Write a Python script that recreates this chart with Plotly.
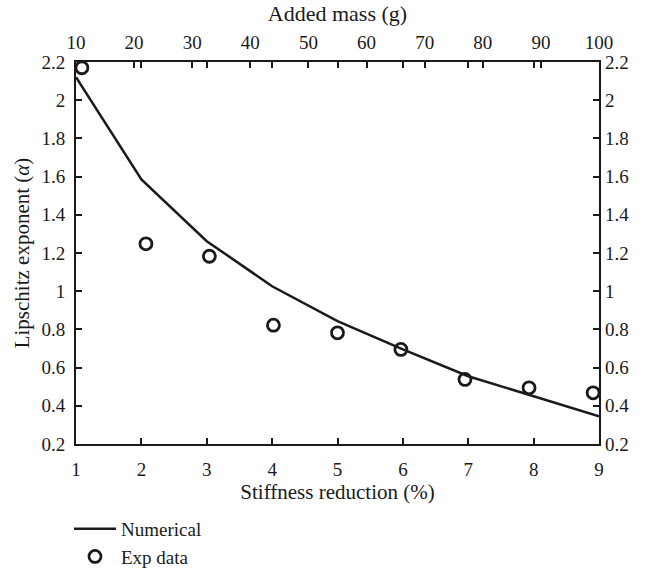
import plotly.graph_objects as go

# Data
stiffness = [1, 2, 3, 4, 5, 6, 7, 8, 9]
numerical = [2.12, 1.585, 1.262, 1.026, 0.843, 0.695, 0.555, 0.45, 0.345]
exp_x = [1.09, 2.07, 3.04, 4.02, 5.0, 5.97, 6.95, 7.93, 8.91]
exp_y = [2.17, 1.248, 1.183, 0.822, 0.782, 0.695, 0.538, 0.494, 0.468]
mass_ticks = [10, 20, 30, 40, 50, 60, 70, 80, 90, 100]
y_ticks = [0.2, 0.4, 0.6, 0.8, 1.0, 1.2, 1.4, 1.6, 1.8, 2.0, 2.2]
y_ticklabels = ["0.2", "0.4", "0.6", "0.8", "1", "1.2", "1.4", "1.6", "1.8", "2", "2.2"]

FONT = "Liberation Serif"
BLACK = "#1a1a1a"

fig = go.Figure()
fig.add_trace(go.Scatter(x=stiffness, y=numerical, mode="lines", name="Numerical",
                         line=dict(color=BLACK, width=2.5)))
fig.add_trace(go.Scatter(x=exp_x, y=exp_y, mode="markers", name="Exp data",
                         marker=dict(symbol="circle-open", size=12, color=BLACK,
                                     line=dict(width=2.8, color=BLACK))))
# invisible trace to anchor top/right axes
fig.add_trace(go.Scatter(x=[mass_ticks[0], mass_ticks[-1]], y=[y_ticks[0], y_ticks[-1]],
                         xaxis="x2", yaxis="y2", mode="markers",
                         marker=dict(opacity=0), showlegend=False, hoverinfo="skip"))

axis_common = dict(showgrid=False, zeroline=False, linecolor=BLACK, linewidth=2,
                   ticks="inside", ticklen=6, tickwidth=1.5, tickcolor=BLACK,
                   automargin=False,
                   tickfont=dict(family=FONT, size=19, color=BLACK))

fig.update_layout(
    width=654, height=571,
    margin=dict(l=76, r=55, t=62, b=127),
    plot_bgcolor="white", paper_bgcolor="white",
    font=dict(family=FONT, size=19, color=BLACK),
    xaxis=dict(range=[1, 9], tickvals=stiffness, showline=True, mirror="ticks",
               ticklabelstandoff=7,
               title=dict(text="Stiffness reduction (%)", font=dict(family=FONT, size=21),
                          standoff=4),
               **axis_common),
    yaxis=dict(range=[0.2, 2.2], tickvals=y_ticks, ticktext=y_ticklabels, showline=True,
               mirror="ticks", ticklabelstandoff=5,
               title=dict(text="Lipschitz exponent (<i>α</i>)", font=dict(family=FONT, size=21),
                          standoff=6),
               **axis_common),
    xaxis2=dict(range=[10, 100], tickvals=mass_ticks, overlaying="x", side="top",
                anchor="y", showline=False, ticklabelstandoff=8,
                title=dict(text="Added mass (g)", font=dict(family=FONT, size=22), standoff=4),
                **axis_common),
    yaxis2=dict(range=[0.2, 2.2], tickvals=y_ticks, ticktext=y_ticklabels, overlaying="y",
                side="right", anchor="x", showline=False, ticklabelstandoff=5,
                **axis_common),
    legend=dict(orientation="h", entrywidth=1, entrywidthmode="fraction",
                xref="paper", x=-0.0134, xanchor="left",
                yref="container", y=0.107, yanchor="top",
                font=dict(family=FONT, size=19, color=BLACK),
                bgcolor="rgba(0,0,0,0)", tracegroupgap=0, itemwidth=42),
    showlegend=True,
)

fig.write_html("out.html")
